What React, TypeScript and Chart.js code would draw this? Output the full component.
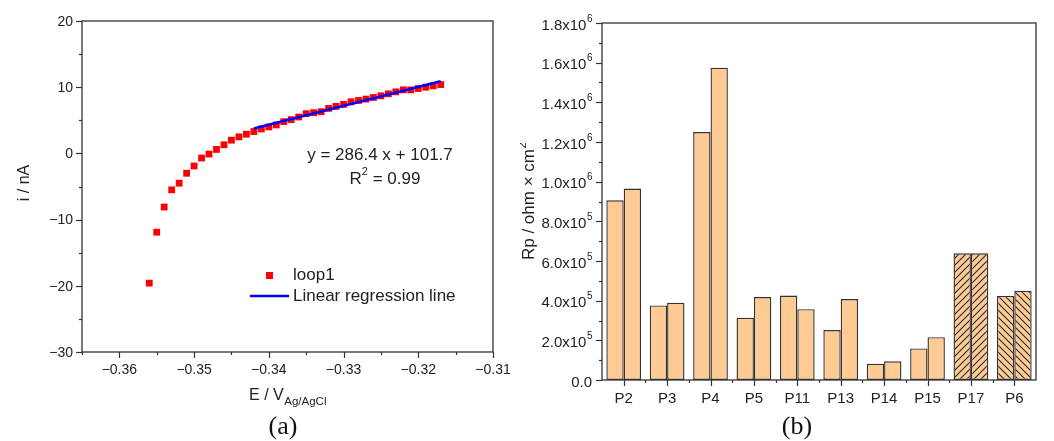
import React, { useEffect, useRef } from "react";
import { Chart, registerables } from "chart.js";
Chart.register(...registerables);

// ---------- Panel (a) data ----------
const potentials = [
  -0.356, -0.355, -0.354, -0.353, -0.352, -0.351, -0.35, -0.349, -0.348, -0.347,
  -0.346, -0.345, -0.344, -0.343, -0.342, -0.341, -0.34, -0.339, -0.338, -0.337,
  -0.336, -0.335, -0.334, -0.333, -0.332, -0.331, -0.33, -0.329, -0.328, -0.327,
  -0.326, -0.325, -0.324, -0.323, -0.322, -0.321, -0.32, -0.319, -0.318, -0.317,
];
const currents = [
  -19.6, -11.9, -8.1, -5.5, -4.5, -3.0, -1.9, -0.7, -0.1, 0.6,
  1.3, 2.0, 2.5, 2.9, 3.3, 3.7, 4.0, 4.3, 4.8, 5.1,
  5.5, 6.0, 6.15, 6.3, 6.8, 7.1, 7.4, 7.8, 8.0, 8.2,
  8.45, 8.7, 9.0, 9.3, 9.6, 9.6, 9.8, 10.0, 10.2, 10.4,
];
const fitLineX = [-0.342, -0.317];
const fitLineY = [3.75, 10.91];
const xTicksA = [-0.36, -0.35, -0.34, -0.33, -0.32, -0.31];
const xTickLabelsA = ["\u22120.36", "\u22120.35", "\u22120.34", "\u22120.33", "\u22120.32", "\u22120.31"];
const yTicksA = [-30, -20, -10, 0, 10, 20];
const yTickLabelsA = ["\u221230", "\u221220", "\u221210", "0", "10", "20"];

// ---------- Panel (b) data ----------
const categories = ["P2", "P3", "P4", "P5", "P11", "P13", "P14", "P15", "P17", "P6"];
const rpFirst = [9.06e5, 3.76e5, 1.25e6, 3.14e5, 4.26e5, 2.52e5, 0.82e5, 1.59e5, 6.39e5, 4.24e5];
const rpSecond = [9.65e5, 3.89e5, 1.575e6, 4.18e5, 3.57e5, 4.08e5, 0.94e5, 2.16e5, 6.39e5, 4.5e5];
const barHatch = ["", "", "", "", "", "", "", "", "/", "\\"];
const yTicksB = [0, 2e5, 4e5, 6e5, 8e5, 1e6, 1.2e6, 1.4e6, 1.6e6, 1.8e6];
const yTickMantissaB = ["0.0", "2.0x10", "4.0x10", "6.0x10", "8.0x10", "1.0x10", "1.2x10", "1.4x10", "1.6x10", "1.8x10"];
const yTickExpB = ["", "5", "5", "5", "5", "6", "6", "6", "6", "6"];

const FONT = "'Liberation Sans', Arial, sans-serif";
const SERIF = "'Liberation Serif', 'Times New Roman', serif";
const AXIS = "#333333";
const TEXT = "#222222";
const PEACH = "#FECB94";

function makeHatch(dir: string): CanvasPattern | string {
  const s = 7;
  const c = document.createElement("canvas");
  c.width = s;
  c.height = s;
  const g = c.getContext("2d")!;
  g.fillStyle = PEACH;
  g.fillRect(0, 0, s, s);
  g.strokeStyle = "#2a2a2a";
  g.lineWidth = 1.1;
  g.beginPath();
  if (dir === "/") {
    g.moveTo(-1, s + 1); g.lineTo(s + 1, -1);
    g.moveTo(-1, 1); g.lineTo(1, -1);
    g.moveTo(s - 1, s + 1); g.lineTo(s + 1, s - 1);
  } else {
    g.moveTo(-1, -1); g.lineTo(s + 1, s + 1);
    g.moveTo(s - 1, -1); g.lineTo(s + 1, 1);
    g.moveTo(-1, s - 1); g.lineTo(1, s + 1);
  }
  g.stroke();
  const p = g.createPattern(c, "repeat");
  return p || PEACH;
}

function drawFrame(ctx: CanvasRenderingContext2D, area: any) {
  ctx.save();
  ctx.strokeStyle = AXIS;
  ctx.lineWidth = 1.3;
  ctx.strokeRect(area.left, area.top, area.right - area.left, area.bottom - area.top);
  ctx.restore();
}

const panelAPlugin = {
  id: "panelA",
  afterDraw(chart: any) {
    const ctx: CanvasRenderingContext2D = chart.ctx;
    const area = chart.chartArea;
    const xs = chart.scales.x;
    const ys = chart.scales.y;
    drawFrame(ctx, area);
    ctx.save();
    ctx.strokeStyle = AXIS;
    ctx.lineWidth = 1.2;
    for (let i = 0; i < yTicksA.length; i++) {
      const py = Math.round(ys.getPixelForValue(yTicksA[i])) + 0.5;
      ctx.beginPath(); ctx.moveTo(area.left - 6, py); ctx.lineTo(area.left, py); ctx.stroke();
      if (i < yTicksA.length - 1) {
        const pm = Math.round(ys.getPixelForValue((yTicksA[i] + yTicksA[i + 1]) / 2)) + 0.5;
        ctx.beginPath(); ctx.moveTo(area.left - 3, pm); ctx.lineTo(area.left, pm); ctx.stroke();
      }
    }
    const xMinor = [-0.365, ...xTicksA.slice(0, -1).map((v, i) => (v + xTicksA[i + 1]) / 2)];
    for (const v of xTicksA) {
      const px = Math.round(xs.getPixelForValue(v)) + 0.5;
      ctx.beginPath(); ctx.moveTo(px, area.bottom); ctx.lineTo(px, area.bottom + 6); ctx.stroke();
    }
    for (const v of xMinor) {
      const px = Math.round(xs.getPixelForValue(v)) + 0.5;
      ctx.beginPath(); ctx.moveTo(px, area.bottom); ctx.lineTo(px, area.bottom + 3); ctx.stroke();
    }
    ctx.fillStyle = TEXT;
    ctx.font = `14px ${FONT}`;
    ctx.textAlign = "right";
    ctx.textBaseline = "middle";
    yTicksA.forEach((v, i) => ctx.fillText(yTickLabelsA[i], area.left - 9, ys.getPixelForValue(v) + 1));
    ctx.textAlign = "center";
    ctx.textBaseline = "top";
    xTicksA.forEach((v, i) => ctx.fillText(xTickLabelsA[i], xs.getPixelForValue(v), area.bottom + 11));

    ctx.save();
    ctx.translate(25, 183);
    ctx.rotate(-Math.PI / 2);
    ctx.font = `16px ${FONT}`;
    ctx.textAlign = "center";
    ctx.textBaseline = "middle";
    ctx.fillText("i / nA", 0, 0);
    ctx.restore();

    const cx = (area.left + area.right) / 2;
    ctx.textBaseline = "alphabetic";
    ctx.textAlign = "left";
    ctx.font = `16px ${FONT}`;
    const main = "E / V";
    const wMain = ctx.measureText(main).width;
    ctx.font = `11.5px ${FONT}`;
    const sub = "Ag/AgCl";
    const wSub = ctx.measureText(sub).width;
    const x0 = cx - (wMain + wSub) / 2;
    ctx.font = `16px ${FONT}`;
    ctx.fillText(main, x0, 400);
    ctx.font = `11.5px ${FONT}`;
    ctx.fillText(sub, x0 + wMain + 0.5, 405);

    ctx.font = `26px ${SERIF}`;
    ctx.textAlign = "center";
    ctx.fillStyle = "#111";
    ctx.fillText("(a)", 283, 434);

    ctx.fillStyle = TEXT;
    ctx.font = `17px ${FONT}`;
    ctx.textAlign = "center";
    ctx.textBaseline = "middle";
    ctx.fillText("y = 286.4 x + 101.7", 380, 155);
    ctx.textAlign = "left";
    const r1 = "R";
    const r2 = " = 0.99";
    const wR = ctx.measureText(r1).width;
    ctx.font = `11px ${FONT}`;
    const wS = ctx.measureText("2").width;
    ctx.font = `17px ${FONT}`;
    const wRest = ctx.measureText(r2).width;
    const rx = 385 - (wR + wS + wRest) / 2;
    ctx.fillText(r1, rx, 179);
    ctx.font = `11px ${FONT}`;
    ctx.fillText("2", rx + wR, 172);
    ctx.font = `17px ${FONT}`;
    ctx.fillText(r2, rx + wR + wS, 179);

    ctx.fillStyle = "#ff0000";
    ctx.fillRect(266, 272, 7, 7);
    ctx.strokeStyle = "#0000ff";
    ctx.lineWidth = 2.5;
    ctx.beginPath(); ctx.moveTo(250, 296); ctx.lineTo(289, 296); ctx.stroke();
    ctx.fillStyle = TEXT;
    ctx.font = `17px ${FONT}`;
    ctx.textBaseline = "middle";
    ctx.fillText("loop1", 293, 275);
    ctx.fillText("Linear regression line", 293, 296);
    ctx.restore();
  },
};

const panelBPlugin = {
  id: "panelB",
  afterDraw(chart: any) {
    const ctx: CanvasRenderingContext2D = chart.ctx;
    const area = chart.chartArea;
    const xs = chart.scales.x;
    const ys = chart.scales.y;
    drawFrame(ctx, area);
    ctx.save();
    ctx.strokeStyle = AXIS;
    ctx.lineWidth = 1.2;
    for (let i = 0; i < yTicksB.length; i++) {
      const py = Math.round(ys.getPixelForValue(yTicksB[i])) + 0.5;
      ctx.beginPath(); ctx.moveTo(area.left - 6, py); ctx.lineTo(area.left, py); ctx.stroke();
      if (i < yTicksB.length - 1) {
        const pm = Math.round(ys.getPixelForValue((yTicksB[i] + yTicksB[i + 1]) / 2)) + 0.5;
        ctx.beginPath(); ctx.moveTo(area.left - 3, pm); ctx.lineTo(area.left, pm); ctx.stroke();
      }
    }
    for (let i = 0; i < categories.length; i++) {
      const px = Math.round(xs.getPixelForValue(i)) + 0.5;
      ctx.beginPath(); ctx.moveTo(px, area.bottom); ctx.lineTo(px, area.bottom + 6); ctx.stroke();
      const pb = Math.round(xs.getPixelForValue(i + 0.5)) + 0.5;
      if (i < categories.length - 1) {
        ctx.beginPath(); ctx.moveTo(pb, area.bottom); ctx.lineTo(pb, area.bottom + 3); ctx.stroke();
      }
    }
    ctx.fillStyle = TEXT;
    yTicksB.forEach((v, i) => {
      const py = ys.getPixelForValue(v);
      ctx.font = `15px ${FONT}`;
      const wm = ctx.measureText(yTickMantissaB[i]).width;
      ctx.font = `10px ${FONT}`;
      const we = yTickExpB[i] ? ctx.measureText(yTickExpB[i]).width : 0;
      const right = area.left - 10;
      const x0 = right - wm - we;
      ctx.textAlign = "left";
      ctx.textBaseline = "alphabetic";
      ctx.font = `15px ${FONT}`;
      ctx.fillText(yTickMantissaB[i], x0, py + 6.5);
      if (yTickExpB[i]) {
        ctx.font = `10px ${FONT}`;
        ctx.fillText(yTickExpB[i], x0 + wm + 0.5, py - 1.5);
      }
    });
    ctx.font = `15px ${FONT}`;
    ctx.textAlign = "center";
    ctx.textBaseline = "middle";
    categories.forEach((c, i) => ctx.fillText(c, xs.getPixelForValue(i), area.bottom + 19));

    ctx.save();
    ctx.translate(9, (area.top + area.bottom) / 2);
    ctx.rotate(-Math.PI / 2);
    ctx.font = `17px ${FONT}`;
    const t = "Rp / ohm \u00d7 cm";
    const wt = ctx.measureText(t).width;
    ctx.font = `11px ${FONT}`;
    const w2 = ctx.measureText("2").width;
    ctx.textAlign = "left";
    ctx.textBaseline = "middle";
    ctx.font = `17px ${FONT}`;
    ctx.fillText(t, -(wt + w2) / 2, 0);
    ctx.font = `11px ${FONT}`;
    ctx.fillText("2", -(wt + w2) / 2 + wt + 0.5, -6);
    ctx.restore();

    ctx.font = `26px ${SERIF}`;
    ctx.textAlign = "center";
    ctx.textBaseline = "alphabetic";
    ctx.fillStyle = "#111";
    ctx.fillText("(b)", 277, 434);
    ctx.restore();
  },
};

export default function App() {
  const refA = useRef<HTMLCanvasElement>(null);
  const refB = useRef<HTMLCanvasElement>(null);

  useEffect(() => {
    const chartA = new Chart(refA.current!, {
      type: "scatter",
      data: {
        datasets: [
          {
            label: "loop1",
            data: potentials.map((x, i) => ({ x, y: currents[i] })),
            pointStyle: "rect",
            pointRadius: 4.8,
            pointHoverRadius: 4.8,
            backgroundColor: "#ff0000",
            borderColor: "#ff0000",
            borderWidth: 0,
            order: 1,
          },
          {
            type: "line",
            label: "Linear regression line",
            data: fitLineX.map((x, i) => ({ x, y: fitLineY[i] })),
            borderColor: "#0000ff",
            borderWidth: 2.5,
            pointRadius: 0,
            showLine: true,
            fill: false,
            order: 0,
          } as any,
        ],
      },
      options: {
        responsive: false,
        animation: false,
        layout: { padding: { left: 0, right: 27, top: 21, bottom: 0 }, autoPadding: false },
        plugins: { legend: { display: false }, tooltip: { enabled: false } },
        scales: {
          x: {
            type: "linear",
            min: -0.365,
            max: -0.31,
            ticks: { display: false },
            grid: { display: false },
            border: { display: false },
            afterFit: (s: any) => { s.height = 89; },
          },
          y: {
            type: "linear",
            min: -30,
            max: 20,
            ticks: { display: false },
            grid: { display: false },
            border: { display: false },
            afterFit: (s: any) => { s.width = 82; },
          },
        },
      } as any,
      plugins: [panelAPlugin],
    });

    const fills = barHatch.map((h) => (h ? makeHatch(h) : PEACH));
    const chartB = new Chart(refB.current!, {
      type: "bar",
      data: {
        labels: categories,
        datasets: [
          {
            label: "first",
            data: rpFirst,
            backgroundColor: fills as any,
            borderColor: "#333333",
            borderWidth: 1.4,
            borderSkipped: false,
            categoryPercentage: 0.8,
            barPercentage: 1.0,
          },
          {
            label: "second",
            data: rpSecond,
            backgroundColor: fills as any,
            borderColor: "#333333",
            borderWidth: 1.4,
            borderSkipped: false,
            categoryPercentage: 0.8,
            barPercentage: 1.0,
          },
        ],
      },
      options: {
        responsive: false,
        animation: false,
        layout: { padding: { left: 0, right: 18, top: 23, bottom: 0 } },
        plugins: { legend: { display: false }, tooltip: { enabled: false } },
        scales: {
          x: {
            type: "category",
            ticks: { display: false },
            grid: { display: false },
            border: { display: false },
            afterFit: (s: any) => { s.height = 61; },
          },
          y: {
            type: "linear",
            min: 0,
            max: 1.8e6,
            ticks: { display: false },
            grid: { display: false },
            border: { display: false },
            afterFit: (s: any) => { s.width = 82; },
          },
        },
      } as any,
      plugins: [panelBPlugin],
    });

    return () => {
      chartA.destroy();
      chartB.destroy();
    };
  }, []);

  return (
    <div style={{ position: "fixed", left: 0, top: 0, width: 1054, height: 441, background: "#ffffff", overflow: "hidden" }}>
      <canvas ref={refA} width={520} height={441} style={{ position: "absolute", left: 0, top: 0, width: 520, height: 441 }} />
      <canvas ref={refB} width={534} height={441} style={{ position: "absolute", left: 520, top: 0, width: 534, height: 441 }} />
    </div>
  );
}
